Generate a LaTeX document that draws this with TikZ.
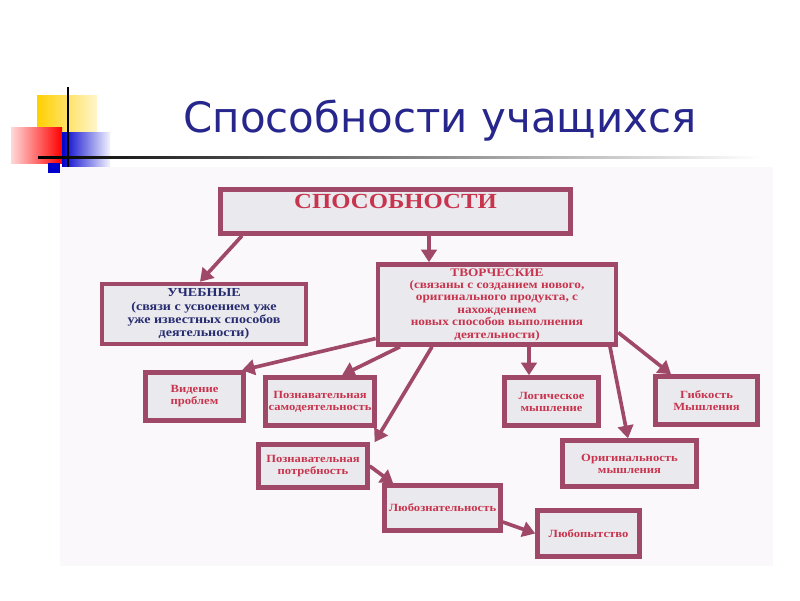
\documentclass[tikz,border=0pt]{standalone}
\usepackage{fontspec}
\setmainfont{Liberation Serif}
\newfontfamily\schemefont[FakeStretch=1.15]{Liberation Serif}
\newfontfamily\titlefont{DejaVu Sans}
\usetikzlibrary{arrows.meta}

\definecolor{frame}{RGB}{160,72,104}
\definecolor{boxfill}{RGB}{234,234,238}
\definecolor{redtext}{RGB}{200,52,78}
\definecolor{navytext}{RGB}{40,44,112}
\definecolor{titleblue}{RGB}{38,38,140}
\definecolor{sheet}{RGB}{250,248,250}
\definecolor{gold}{RGB}{255,208,0}

\newcommand{\pxu}{0.025cm}

\begin{document}
\begin{tikzpicture}[x=0.025cm, y=-0.025cm,
    box/.style={draw=frame, line width=3.2pt, fill=boxfill, align=center,
        text=redtext, inner sep=1pt,
        font=\schemefont\bfseries\fontsize{7.8}{8.6}\selectfont},
    bigbox/.style={box, font=\schemefont\bfseries\fontsize{8.2}{8.8}\selectfont},
    arr/.style={-{Triangle[length=9pt,width=11pt]}, line width=2.6pt, draw=frame}]
    \useasboundingbox (0,0) rectangle (800,600);

    % Draw corner squares
    \shade[left color=gold, right color=gold!20] (37,95) rectangle (97,132);
    \shade[left color=red!15, right color=red] (11,127) rectangle (62,163);
    \shade[left color=blue!80!black, right color=blue!5] (62,132) rectangle (110,167);
    \fill[blue!80!black] (48,163) rectangle (60,173);
    \draw[line width=1.3pt] (68,87) -- (68,167);
    \shade[left color=black, right color=white] (38,156) rectangle (760,158.5);

    % Title
    \node[anchor=base, text=titleblue, font=\titlefont\fontsize{29.8}{34}\selectfont]
        (title) at (440,132) {Способности учащихся};

    % Sheet behind the scheme
    \fill[sheet] (60,167) rectangle (773,566);

    % Draw boxes
    \node[box, minimum width=8.75cm, minimum height=1.1cm, text height=10pt, text depth=14pt,
        font=\schemefont\bfseries\fontsize{15.3}{18}\selectfont] (spos) at (395.5,211.5) {СПОСОБНОСТИ};
    \node[bigbox, text=navytext, minimum width=5.1cm, minimum height=1.5cm,
        font=\schemefont\bfseries\fontsize{8.7}{9.4}\selectfont] (ucheb) at (204,314)
        {УЧЕБНЫЕ\\(связи с усвоением уже\\уже известных способов\\деятельности)};
    \node[bigbox, minimum width=5.95cm, minimum height=2cm] (tvor) at (497,304.5)
        {ТВОРЧЕСКИЕ\\(связаны с созданием нового,\\оригинального продукта, с\\нахождением\\новых способов выполнения\\деятельности)};
    \node[box, minimum width=2.45cm, minimum height=1.2cm] (viden) at (194.5,396.5) {Видение\\проблем};
    \node[box, minimum width=2.72cm, minimum height=1.2cm] (samod) at (320,401.5) {Познавательная\\самодеятельность};
    \node[box, minimum width=2.35cm, minimum height=1.2cm] (logic) at (551.5,401.5) {Логическое\\мышление};
    \node[box, minimum width=2.55cm, minimum height=1.2cm] (gibk) at (706.5,400.5) {Гибкость\\Мышления};
    \node[box, minimum width=3.35cm, minimum height=1.15cm] (orig) at (629.5,463.5) {Оригинальность\\мышления};
    \node[box, minimum width=2.72cm, minimum height=1.08cm] (potreb) at (313,466) {Познавательная\\потребность};
    \node[box, minimum width=2.9cm, minimum height=1.12cm] (lyuboz) at (442.5,508) {Любознательность};
    \node[box, minimum width=2.55cm, minimum height=1.15cm] (lyubop) at (588.5,533.5) {Любопытство};

    % Draw arrows
    \draw[arr] ([xshift=-153.5*\pxu]spos.south) -- ([xshift=-4*\pxu]ucheb.north);
    \draw[arr] ([xshift=33.5*\pxu]spos.south) -- ([xshift=-68*\pxu]tvor.north);
    \draw[arr] ([yshift=-34*\pxu]tvor.west) -- ([xshift=47.5*\pxu]viden.north);
    \draw[arr] ([xshift=-97*\pxu]tvor.south) -- ([xshift=22*\pxu]samod.north);
    \draw[arr] ([xshift=-65*\pxu]tvor.south) -- ([xshift=5*\pxu]potreb.north east);
    \draw[arr] ([xshift=32*\pxu]tvor.south) -- ([xshift=-22.5*\pxu]logic.north);
    \draw[arr] ([xshift=113*\pxu]tvor.south) -- ([xshift=-1.5*\pxu]orig.north);
    \draw[arr] ([yshift=-28*\pxu]tvor.east) -- ([xshift=-35.5*\pxu]gibk.north);
    \draw[arr] (potreb.east) -- ([xshift=11*\pxu]lyuboz.north west);
    \draw[arr] ([yshift=-14*\pxu]lyuboz.east) -- (lyubop.west);
\end{tikzpicture}
\end{document}
